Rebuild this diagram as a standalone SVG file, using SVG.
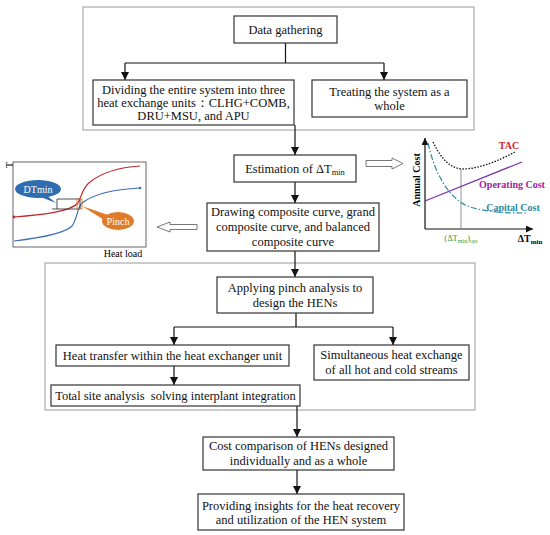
<svg xmlns="http://www.w3.org/2000/svg" width="550" height="535" viewBox="0 0 550 535">
<defs>
<style>
.t{font-family:"Liberation Serif","Times New Roman",serif;font-size:12.5px;fill:#111;text-anchor:middle}
.box{fill:#fff;stroke:#333;stroke-width:1.2}
.grp{fill:none;stroke:#9a9a9a;stroke-width:1}
.ln{fill:none;stroke:#111;stroke-width:1.2}
.b{font-family:"Liberation Serif","Times New Roman",serif;font-weight:bold;font-size:10px}
</style>
<marker id="ah" viewBox="0 0 10 10" refX="10" refY="5" markerWidth="8" markerHeight="8" markerUnits="userSpaceOnUse" orient="auto"><path d="M0,0 L10,5 L0,10 Z" fill="#111"/></marker>
<marker id="ax" viewBox="0 0 10 10" refX="10" refY="5" markerWidth="7" markerHeight="7" markerUnits="userSpaceOnUse" orient="auto"><path d="M0,0 L10,5 L0,10 Z" fill="#111"/></marker>
</defs>
<rect width="550" height="535" fill="#fff"/>

<rect class="grp" x="83" y="7" width="391" height="123"/>
<rect class="grp" x="45" y="263" width="430" height="147"/>

<g id="connectors">
<path class="ln" d="M285.5,43 V63 M125,63 H384" />
<path class="ln" d="M125,63 V80" marker-end="url(#ah)"/>
<path class="ln" d="M384,63 V80" marker-end="url(#ah)"/>
<path class="ln" d="M295,125 V155" marker-end="url(#ah)"/>
<path class="ln" d="M295,182 V203" marker-end="url(#ah)"/>
<path class="ln" d="M295,251 V277" marker-end="url(#ah)"/>
<path class="ln" d="M296,313 V327 M174,327 H393"/>
<path class="ln" d="M174,327 V345" marker-end="url(#ah)"/>
<path class="ln" d="M393,327 V345" marker-end="url(#ah)"/>
<path class="ln" d="M174,366 V385" marker-end="url(#ah)"/>
<path class="ln" d="M297,406 V437" marker-end="url(#ah)"/>
<path class="ln" d="M297,470 V494" marker-end="url(#ah)"/>
<path d="M197,224.5 H170 V222 L157,227 L170,232 V229.5 H197 Z" fill="#fff" stroke="#555" stroke-width="0.8"/>
<path d="M366,160.5 H392 V158 L403,163.5 L392,169 V166.5 H366 Z" fill="#fff" stroke="#555" stroke-width="0.8"/>
</g>

<g id="n1"><rect class="box" x="234" y="16" width="103" height="27"/><text class="t" x="285.5" y="34">Data gathering</text></g>
<g id="n2"><rect class="box" x="93" y="80" width="201" height="45"/>
<text class="t" x="193.5" y="94">Dividing the entire system into three</text>
<text class="t" x="193.5" y="107">heat exchange units：CLHG+COMB,</text>
<text class="t" x="193.5" y="120">DRU+MSU, and APU</text></g>
<g id="n3"><rect class="box" x="312" y="80" width="155" height="37"/>
<text class="t" x="389.5" y="96">Treating the system as a</text>
<text class="t" x="389.5" y="110">whole</text></g>
<g id="n4"><rect class="box" x="234" y="155" width="122" height="27"/>
<text class="t" x="295" y="173">Estimation of ΔT<tspan font-size="8.5px" dy="2">min</tspan></text></g>
<g id="n5"><rect class="box" x="207" y="203" width="172" height="48"/>
<text class="t" x="293" y="216">Drawing composite curve, grand</text>
<text class="t" x="293" y="231">composite curve, and balanced</text>
<text class="t" x="293" y="246">composite curve</text></g>
<g id="n6"><rect class="box" x="217" y="277" width="156" height="36"/>
<text class="t" x="295" y="292">Applying pinch analysis to</text>
<text class="t" x="295" y="307">design the HENs</text></g>
<g id="n7"><rect class="box" x="56" y="345" width="233" height="21"/>
<text class="t" x="172.5" y="360">Heat transfer within the heat exchanger unit</text></g>
<g id="n8"><rect class="box" x="314" y="345" width="155" height="35"/>
<text class="t" x="391.5" y="359">Simultaneous heat exchange</text>
<text class="t" x="391.5" y="374">of all hot and cold streams</text></g>
<g id="n9"><rect class="box" x="51" y="385" width="249" height="21"/>
<text class="t" x="175.5" y="400" style="white-space:pre" xml:space="preserve">Total site analysis  solving interplant integration</text></g>
<g id="n10"><rect class="box" x="203" y="437" width="191" height="33"/>
<text class="t" x="298.5" y="450">Cost comparison of HENs designed</text>
<text class="t" x="298.5" y="465">individually and as a whole</text></g>
<g id="n11"><rect class="box" x="198" y="494" width="206" height="36"/>
<text class="t" x="301" y="510">Providing insights for the heat recovery</text>
<text class="t" x="301" y="524">and utilization of the HEN system</text></g>

<g id="composite-plot">
<text x="9" y="165" transform="rotate(-90 9 165)" font-family="Liberation Serif,serif" font-size="10" text-anchor="middle" dominant-baseline="central">T</text>
<rect x="13" y="162" width="133" height="85" fill="#fff" stroke="#555" stroke-width="0.9"/>
<path d="M14,217 C40,215 70,212 78,203 C82,196 82,188 90,182 C105,170 125,167 140,166" fill="none" stroke="#c0282d" stroke-width="1.2"/>
<circle cx="14" cy="217" r="1.4" fill="#c0282d"/>
<path d="M14,241 C40,238 65,233 72,226 C77,220 77,208 82,203 C95,193 120,189 140,188" fill="none" stroke="#3f6fb5" stroke-width="1.2"/>
<circle cx="140" cy="188" r="1.3" fill="#3f6fb5"/>
<path d="M52,209 H80 M57,199 V209 M57,199 H80 V209" fill="none" stroke="#222" stroke-width="0.8"/>
<rect x="77" y="199" width="5" height="10" fill="none" stroke="#e07b2a" stroke-width="0.9"/>
<path d="M46,195 L56,203 L38,196 Z" fill="#2f6db0"/>
<ellipse cx="38" cy="189" rx="23" ry="9" fill="#2f6db0"/>
<text x="38" y="192.5" font-family="Liberation Serif,serif" font-size="10" fill="#fff" text-anchor="middle">DTmin</text>
<path d="M108,215 L82,206 L112,225 Z" fill="#e07b2a"/>
<ellipse cx="118" cy="221" rx="16" ry="9" fill="#e07b2a"/>
<text x="118" y="224.5" font-family="Liberation Serif,serif" font-size="10" fill="#fff" text-anchor="middle">Pinch</text>
<text x="123" y="257" font-family="Liberation Serif,serif" font-size="10" text-anchor="middle">Heat load</text>
</g>

<g id="cost-plot">
<path d="M425,229 V138" fill="none" stroke="#111" stroke-width="1.2" marker-end="url(#ax)"/>
<path d="M425,229 H533" fill="none" stroke="#111" stroke-width="1.2" marker-end="url(#ax)"/>
<path d="M461,169 V229" stroke="#777" stroke-width="0.8"/>
<path d="M433,142 C442,160 450,168 462,169 C480,169 500,160 515,152" fill="none" stroke="#111" stroke-width="1.3" stroke-dasharray="1.5,1.5"/>
<path d="M425,201 L522,162" stroke="#7b2fa8" stroke-width="1.3"/>
<path d="M428,143 C435,175 450,200 470,207 C490,213 510,213 527,213" fill="none" stroke="#2e8b9a" stroke-width="1.2" stroke-dasharray="6,2,1.5,2"/>
<text x="420" y="180" transform="rotate(-90 420 180)" class="b" text-anchor="middle">Annual Cost</text>
<text x="509" y="149" class="b" fill="#d4212a" text-anchor="middle">TAC</text>
<text x="512" y="188" class="b" fill="#a0229c" text-anchor="middle">Operating Cost</text>
<text x="513" y="211" class="b" fill="#2a8aa3" text-anchor="middle">Capital Cost</text>
<text x="461" y="241" font-family="Liberation Serif,serif" font-size="8.5" fill="#3a9a3a" text-anchor="middle">(ΔT<tspan font-size="6" dy="1.5">min</tspan><tspan dy="-1.5">)</tspan><tspan font-size="6" dy="1.5">opt</tspan></text>
<text x="530" y="242" class="b" text-anchor="middle">ΔT<tspan font-size="7" dy="2">min</tspan></text>
</g>
</svg>
